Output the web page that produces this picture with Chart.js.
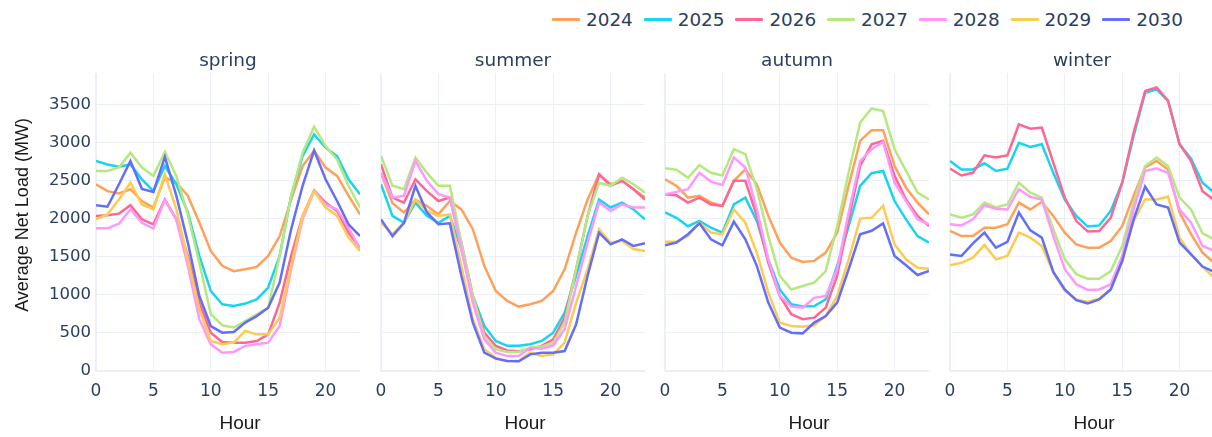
<!DOCTYPE html>
<html>
<head>
<meta charset="utf-8">
<script src="https://cdn.jsdelivr.net/npm/chart.js@4.4.1/dist/chart.umd.min.js"></script>
<style>
  html, body { margin: 0; padding: 0; background: #ffffff; }
  body { width: 1212px; height: 437px; position: relative; overflow: hidden; }
  .panel { position: absolute; top: 0; }
  #legend { position: absolute; top: 0; left: 0; width: 1212px; height: 40px; }
  .item { position: absolute; top: 7px; height: 24px; display: flex; align-items: center;
          font-family: 'DejaVu Sans', sans-serif; font-size: 18.4px; color: #2a3f5f; white-space: nowrap; }
  .swatch { width: 28px; height: 3px; margin-right: 6px; border-radius: 1px; }
</style>
</head>
<body>
<div id="legend"></div>
<div class="panel" id="p0"><canvas id="c0"></canvas></div>
<div class="panel" id="p1"><canvas id="c1"></canvas></div>
<div class="panel" id="p2"><canvas id="c2"></canvas></div>
<div class="panel" id="p3"><canvas id="c3"></canvas></div>
<script>
// Hours of the day and the scenario years plotted in every season panel
const hours = Array.from({length: 24}, (_, h) => h);
const years = ['2024', '2025', '2026', '2027', '2028', '2029', '2030'];
const yearColors = ['#FFA15A', '#19D3F3', '#FF6692', '#B6E880', '#FF97FF', '#FECB52', '#636EFA'];
const seasons = ['spring', 'summer', 'autumn', 'winter'];
const yTicks = [0, 500, 1000, 1500, 2000, 2500, 3000, 3500];
const xTicks = [0, 5, 10, 15, 20];

// Average net load (MW) by hour, one row per year (2024 .. 2030)
const spring = [
  [2450,2360,2330,2385,2230,2145,2540,2470,2300,1950,1575,1380,1310,1335,1365,1510,1770,2250,2690,2890,2670,2560,2300,2055],
  [2755,2710,2680,2710,2515,2360,2690,2450,2080,1510,1050,875,853,885,940,1095,1510,2300,2820,3105,2930,2820,2515,2320],
  [2035,2043,2065,2175,1990,1925,2250,1990,1510,897,503,380,372,372,394,481,897,1510,2035,2370,2210,2100,1815,1618],
  [2625,2625,2670,2865,2670,2560,2875,2560,2050,1420,745,600,570,655,745,830,1510,2300,2865,3205,2950,2775,2430,2145],
  [1872,1872,1933,2120,1945,1868,2250,1990,1380,680,350,240,250,330,350,372,590,1335,1990,2360,2185,2120,1880,1600],
  [1990,2055,2250,2470,2185,2120,2580,2120,1465,810,394,350,372,525,481,481,700,1380,2035,2360,2145,2035,1750,1575],
  [2175,2155,2450,2755,2390,2350,2810,2300,1685,985,590,503,512,635,720,830,1160,1860,2430,2895,2515,2230,1925,1770]
];
const summer = [
  [2600,2200,2080,2250,2165,2055,2230,2120,1860,1380,1050,920,845,875,920,1050,1335,1815,2250,2580,2450,2495,2385,2275],
  [2450,2035,1945,2210,2035,1945,2035,1600,985,590,394,330,330,350,394,503,765,1250,1770,2250,2145,2210,2120,1990],
  [2710,2275,2210,2515,2360,2230,2275,1685,985,503,330,270,260,285,330,415,700,1335,2035,2580,2430,2495,2385,2250],
  [2820,2430,2385,2800,2600,2430,2430,1685,985,460,285,250,250,306,320,372,635,1335,2035,2470,2430,2535,2450,2340],
  [2600,2275,2300,2755,2495,2320,2275,1600,897,415,240,197,197,306,293,337,547,1115,1685,2210,2100,2185,2145,2145],
  [1945,1795,1945,2250,2100,2035,2055,1380,680,285,175,130,130,240,197,218,372,897,1335,1860,1685,1705,1600,1575],
  [1990,1770,1945,2430,2080,1925,1937,1250,635,240,162,130,127,218,240,240,262,612,1250,1815,1662,1728,1640,1675]
];
const autumn = [
  [2515,2430,2275,2300,2210,2165,2495,2645,2450,2035,1685,1487,1430,1445,1553,1815,2430,3020,3160,3160,2690,2405,2210,2055],
  [2080,2010,1900,1970,1880,1815,2185,2275,1970,1465,1070,875,845,853,940,1380,1900,2430,2595,2625,2230,1990,1770,1685],
  [2320,2305,2210,2275,2185,2165,2495,2495,2035,1420,985,745,680,700,830,1250,1990,2690,2975,3020,2560,2250,2035,1900],
  [2660,2640,2535,2700,2600,2565,2910,2845,2385,1770,1250,1070,1115,1160,1310,1900,2600,3260,3445,3410,2910,2625,2340,2250],
  [2320,2350,2385,2600,2485,2440,2800,2670,2120,1465,985,845,830,960,985,1335,2080,2755,2910,3005,2470,2230,1990,1925],
  [1697,1697,1770,1945,1815,1795,2120,1945,1553,1030,635,590,580,600,720,985,1465,2000,2010,2165,1660,1465,1355,1340],
  [1650,1685,1795,1937,1728,1650,1960,1728,1380,897,570,503,494,635,720,897,1335,1795,1840,1937,1510,1387,1260,1312]
];
const winter = [
  [1837,1770,1770,1880,1880,1925,2210,2120,2220,2035,1815,1662,1618,1618,1705,1900,2300,2670,2755,2645,2080,1795,1553,1420],
  [2755,2645,2645,2725,2625,2655,2995,2940,2975,2600,2250,2035,1895,1910,2100,2470,3085,3650,3695,3545,2975,2785,2470,2340],
  [2655,2565,2600,2830,2800,2830,3235,3180,3195,2735,2275,1970,1830,1837,2010,2470,3130,3675,3720,3545,2975,2755,2360,2245],
  [2055,2010,2055,2210,2145,2185,2470,2340,2275,1860,1465,1270,1210,1210,1310,1640,2210,2690,2800,2690,2275,2120,1807,1728],
  [1925,1910,1990,2175,2130,2120,2385,2285,2250,1770,1335,1137,1063,1070,1137,1510,2120,2625,2660,2600,2120,1945,1640,1575],
  [1387,1420,1487,1653,1465,1510,1815,1750,1640,1290,1050,940,905,950,1070,1443,1970,2250,2250,2285,1750,1530,1370,1225],
  [1530,1510,1675,1815,1618,1693,2080,1846,1750,1300,1070,930,885,940,1070,1443,1990,2420,2185,2145,1685,1530,1370,1300]
];
const seasonData = [spring, summer, autumn, winter];

// Panel geometry
const plotLefts = [96, 381, 665, 950];
const plotWidth = 264;
const canvasHeight = 437;
const yAxisWidth = 96;
const sidePad = 20;
const yMax = 3910;

const textColor = '#2a3f5f';
const titleColor = '#1a1a1a';
const titleFamily = "'Liberation Sans', Arial, sans-serif";
const gridColor = '#EBF0F8';
Chart.defaults.font.family = "'DejaVu Sans', sans-serif";
Chart.defaults.color = textColor;

// Axis captions: "Hour" under each panel, the load caption beside the first one
const axisCaptions = {
  id: 'axisCaptions',
  afterDraw(chart, args, opts) {
    const {ctx, chartArea} = chart;
    ctx.save();
    ctx.fillStyle = titleColor;
    ctx.textAlign = 'center';
    ctx.textBaseline = 'middle';
    ctx.font = '19px ' + titleFamily;
    ctx.fillText('Hour', (chartArea.left + chartArea.right) / 2 + 12, 424);
    if (opts.yCaption) {
      ctx.font = '18px ' + titleFamily;
      ctx.translate(23, 215);
      ctx.rotate(-Math.PI / 2);
      ctx.fillText(opts.yCaption, 0, 0);
    }
    ctx.restore();
  }
};

// Legend across the top
const legend = document.getElementById('legend');
years.forEach((y, i) => {
  const item = document.createElement('div');
  item.className = 'item';
  item.style.left = (552 + i * 91.7) + 'px';
  const sw = document.createElement('span');
  sw.className = 'swatch';
  sw.style.background = yearColors[i];
  const label = document.createElement('span');
  label.textContent = y;
  item.appendChild(sw);
  item.appendChild(label);
  legend.appendChild(item);
});

seasons.forEach((season, s) => {
  const first = s === 0;
  const padLeft = first ? 0 : sidePad;
  const width = (first ? yAxisWidth : sidePad) + plotWidth;
  const left = first ? plotLefts[0] - yAxisWidth : plotLefts[s] - sidePad;

  const panel = document.getElementById('p' + s);
  panel.style.left = left + 'px';
  const canvas = document.getElementById('c' + s);
  canvas.width = width;
  canvas.height = canvasHeight;
  canvas.style.width = width + 'px';
  canvas.style.height = canvasHeight + 'px';

  const datasets = years.map((y, i) => ({
    label: y,
    data: hours.map((h, k) => ({x: h, y: seasonData[s][i][k]})),
    borderColor: yearColors[i],
    backgroundColor: yearColors[i],
    borderWidth: 2.5,
    pointRadius: 0,
    tension: 0,
    fill: false,
    order: years.length - i
  }));

  new Chart(canvas, {
    type: 'line',
    data: {datasets},
    plugins: [axisCaptions],
    options: {
      responsive: false,
      animation: false,
      devicePixelRatio: 1,
      layout: {padding: {left: padLeft, right: 0, top: 0, bottom: 0}},
      plugins: {
        legend: {display: false},
        tooltip: {enabled: false},
        axisCaptions: {yCaption: first ? 'Average Net Load (MW)' : ''},
        title: {
          display: true,
          text: season,
          fullSize: false,
          color: textColor,
          font: {size: 18.5, weight: 'normal'},
          padding: {top: 50, bottom: 0.8}
        }
      },
      scales: {
        x: {
          type: 'linear',
          min: 0,
          max: 23,
          afterBuildTicks: (axis) => { axis.ticks = xTicks.map(v => ({value: v})); },
          afterFit: (axis) => { axis.height = 66; },
          grid: {
            color: gridColor,
            lineWidth: (ctx) => (ctx.tick && ctx.tick.value === 0 ? 2 : 1),
            drawTicks: false
          },
          border: {display: false},
          ticks: {padding: 10, color: textColor, font: {size: 17}, maxRotation: 0, includeBounds: false,
                  callback: (v) => String(v)}
        },
        y: {
          type: 'linear',
          min: 0,
          max: yMax,
          afterBuildTicks: (axis) => { axis.ticks = yTicks.map(v => ({value: v})); },
          afterFit: (axis) => { axis.width = first ? yAxisWidth : 0; },
          grid: {
            color: gridColor,
            lineWidth: (ctx) => (ctx.tick && ctx.tick.value === 0 ? 2 : 1),
            drawTicks: false
          },
          border: {display: false},
          ticks: {display: first, padding: 5, color: textColor, font: {size: 16.5},
                  callback: (v) => String(v)}
        }
      }
    }
  });
});
</script>
</body>
</html>
